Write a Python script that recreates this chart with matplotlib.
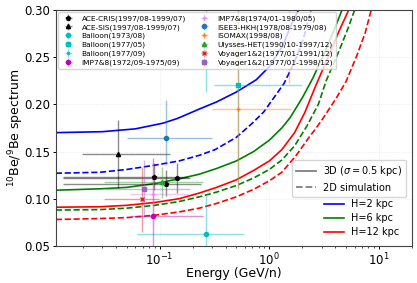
import numpy as np
import matplotlib
matplotlib.use("Agg")
import matplotlib.pyplot as plt
from matplotlib.lines import Line2D

# model curves: energy (GeV/n) and 10Be/9Be ratio
e_2d_3d = [0.0113, 0.03, 0.06, 0.107, 0.145, 0.23, 0.33, 0.50, 0.76, 1.0, 1.32, 1.65, 1.85, 2.0]
h2_3d = [0.170, 0.171, 0.174, 0.180, 0.185, 0.195, 0.2025, 0.213, 0.226, 0.240, 0.262, 0.289, 0.300, 0.310]

e_h2_2d = [0.0113, 0.0285, 0.05, 0.09, 0.15, 0.23, 0.32, 0.50, 0.70, 0.89, 1.1, 1.36, 1.7, 2.05, 2.4, 2.6]
h2_2d = [0.127, 0.128, 0.131, 0.1355, 0.140, 0.146, 0.152, 0.165, 0.180, 0.192, 0.207, 0.222, 0.245, 0.270, 0.300, 0.310]

e_h6_3d = [0.0113, 0.0285, 0.05, 0.09, 0.15, 0.23, 0.33, 0.50, 0.72, 1.0, 1.3, 1.55, 2.0, 2.5, 3.2, 4.0, 4.6, 5.0]
h6_3d = [0.109, 0.1105, 0.112, 0.116, 0.121, 0.126, 0.132, 0.140, 0.150, 0.162, 0.175, 0.186, 0.207, 0.228, 0.255, 0.282, 0.300, 0.310]

e_h12_3d = [0.0113, 0.0285, 0.05, 0.09, 0.15, 0.23, 0.33, 0.50, 0.72, 1.0, 1.3, 1.7, 2.1, 2.7, 3.5, 4.3, 5.3, 5.8]
h12_3d = [0.091, 0.0915, 0.093, 0.096, 0.100, 0.106, 0.112, 0.120, 0.130, 0.140, 0.152, 0.170, 0.191, 0.222, 0.252, 0.277, 0.300, 0.310]

e_h6_2d = [0.0113, 0.0285, 0.05, 0.09, 0.15, 0.23, 0.33, 0.50, 0.72, 1.0, 1.3, 1.7, 2.2, 2.8, 3.3, 4.3, 5.2, 6.0, 6.5]
h6_2d = [0.088, 0.0885, 0.090, 0.093, 0.097, 0.102, 0.107, 0.114, 0.122, 0.131, 0.141, 0.156, 0.177, 0.200, 0.225, 0.256, 0.280, 0.300, 0.310]

e_h12_2d = [0.0113, 0.0285, 0.05, 0.09, 0.15, 0.23, 0.33, 0.50, 0.72, 1.0, 1.3, 1.76, 2.3, 2.6, 3.0, 4.0, 5.0, 6.3, 7.5, 8.5, 9.0]
h12_2d = [0.078, 0.079, 0.080, 0.0825, 0.086, 0.090, 0.095, 0.102, 0.110, 0.119, 0.128, 0.146, 0.165, 0.173, 0.183, 0.205, 0.224, 0.252, 0.276, 0.300, 0.310]

# measurements: label, energy, value, energy low/high bound, value low/high bound
exp_labels = ["ACE-CRIS(1997/08-1999/07)", "ACE-SIS(1997/08-1999/07)", "Balloon(1973/08)",
              "Balloon(1977/05)", "Balloon(1977/09)", "IMP7&8(1972/09-1975/09)",
              "IMP7&8(1974/01-1980/05)", "ISEE3-HKH(1978/08-1979/08)", "ISOMAX(1998/08)",
              "Ulysses-HET(1990/10-1997/12)", "Voyager1&2(1977/01-1991/12)", "Voyager1&2(1977/01-1998/12)"]
exp_E = [[0.088, 0.113, 0.143], [0.0415], [0.267], [0.522], [0.262], [0.0865],
         [0.0865], [0.113], [0.52, 1.52], [0.104], [0.0686], [0.0716]]
exp_val = [[0.123, 0.1157, 0.122], [0.1475], [0.0627], [0.2205], [0.33], [0.082],
           [0.105], [0.164], [0.195, 0.33], [0.118], [0.0998], [0.110]]
exp_Elo = [[0.013, 0.013, 0.013], [0.0195], [0.062], [0.316], [0.15], [0.055],
           [0.054], [0.05], [0.30, 1.1], [0.031], [0.031], [0.032]]
exp_Ehi = [[0.18, 0.24, 0.19], [0.125], [0.59], [2.0], [0.45], [0.246],
           [0.184], [0.30], [1.58, 2.1], [0.246], [0.098], [0.19]]
exp_vlo = [[0.109, 0.103, 0.106], [0.111], [0.02], [0.111], [0.213], [0.02],
           [0.07], [0.136], [0.11, 0.223], [0.101], [0.065], [0.083]]
exp_vhi = [[0.138, 0.130, 0.138], [0.1835], [0.104], [0.33], [0.45], [0.143],
           [0.14], [0.205], [0.31, 0.44], [0.134], [0.134], [0.141]]
exp_colors = ["k", "k", "c", "c", "c", "m", "violet", "tab:blue", "tab:orange",
              "tab:green", "tab:red", "tab:purple"]
exp_markers = ["p", "^", "o", "s", ".", "o", "+", "o", "+", "^", "x", "s"]

fig = plt.figure(figsize=(4.17, 2.83), dpi=100)
ax = fig.add_axes([0.134, 0.131, 0.854, 0.834])

ax.plot(e_2d_3d, h2_3d, color="blue", lw=1.2)
ax.plot(e_h2_2d, h2_2d, color="blue", lw=1.2, ls="--")
ax.plot(e_h6_3d, h6_3d, color="green", lw=1.2)
ax.plot(e_h6_2d, h6_2d, color="green", lw=1.2, ls="--")
ax.plot(e_h12_3d, h12_3d, color="red", lw=1.2)
ax.plot(e_h12_2d, h12_2d, color="red", lw=1.2, ls="--")

handles = []
for i in range(len(exp_labels)):
    E = np.array(exp_E[i])
    v = np.array(exp_val[i])
    xerr = [E - np.array(exp_Elo[i]), np.array(exp_Ehi[i]) - E]
    yerr = [v - np.array(exp_vlo[i]), np.array(exp_vhi[i]) - v]
    h = ax.errorbar(E, v, xerr=xerr, yerr=yerr, fmt=exp_markers[i], color=exp_colors[i],
                    ms=3, elinewidth=1, capsize=0, label=exp_labels[i])
    for lc in h[2]:
        lc.set_alpha(0.45)
    handles.append(h)

ax.set_xscale("log")
ax.set_xlim(0.0113, 20)
ax.set_ylim(0.05, 0.30)
ax.set_yticks([0.05, 0.10, 0.15, 0.20, 0.25, 0.30])
ax.tick_params(labelsize=8.5, length=2.5, pad=1.5, width=0.7)
ax.tick_params(which="minor", length=1.5, width=0.5)
for s in ax.spines.values():
    s.set_color("#444444")
    s.set_linewidth(0.8)
ax.grid(True, alpha=0.3, ls=":", lw=0.6)
ax.set_xlabel("Energy (GeV/n)", fontsize=9, labelpad=-1)
ax.set_ylabel("$^{10}$Be/$^{9}$Be spectrum", fontsize=9, labelpad=-1)

leg1 = ax.legend(handles=handles, loc="upper left", ncol=2, fontsize=5.3,
                 labelspacing=0.3, borderaxespad=0.3, columnspacing=1.5,
                 borderpad=0.4)
ax.add_artist(leg1)

style_h = [Line2D([], [], color="gray", lw=1.3), Line2D([], [], color="gray", lw=1.3, ls="--")]
leg2 = ax.legend(style_h, [r"3D ($\sigma=0.5$ kpc)", "2D simulation"], loc="lower right",
                 bbox_to_anchor=(0.99, 0.2), fontsize=7, borderaxespad=0.2)
ax.add_artist(leg2)

col_h = [Line2D([], [], color=c, lw=1.2) for c in ["blue", "green", "red"]]
ax.legend(col_h, ["H=2 kpc", "H=6 kpc", "H=12 kpc"], loc="lower right",
          bbox_to_anchor=(0.99, 0.0), fontsize=7, frameon=False, labelspacing=0.4)

fig.savefig("out.png", dpi=100)
